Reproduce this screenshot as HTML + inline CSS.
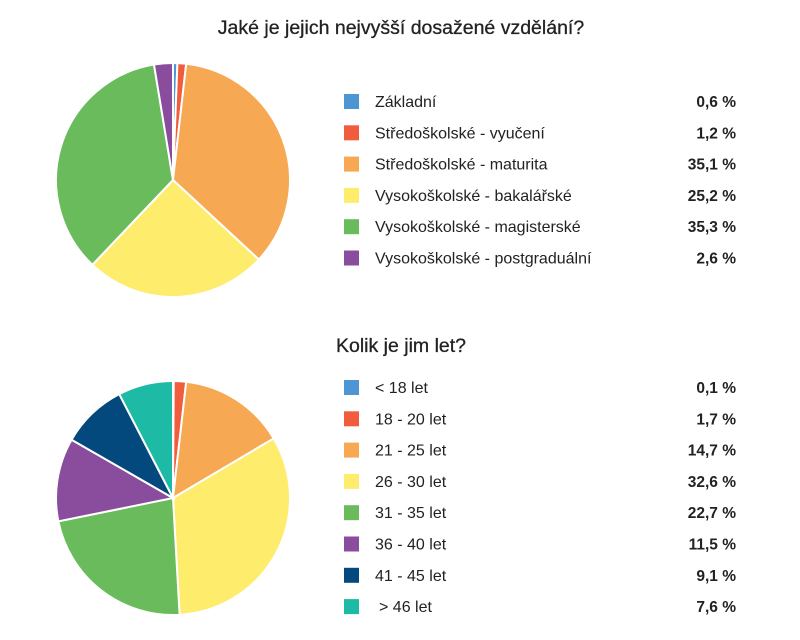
<!DOCTYPE html>
<html><head><meta charset="utf-8"><style>
body{margin:0;background:#fff;font-family:"Liberation Sans","DejaVu Sans",sans-serif;}
</style></head><body>
<svg width="800" height="635" xmlns="http://www.w3.org/2000/svg" font-family="Liberation Sans, DejaVu Sans, sans-serif">
<text x="401" y="34" text-anchor="middle" font-size="19.5" fill="#222" stroke="#222" stroke-width="0.3">Jaké je jejich nejvyšší dosažené vzdělání?</text>
<text x="401" y="352" text-anchor="middle" font-size="19.5" fill="#222" stroke="#222" stroke-width="0.3">Kolik je jim let?</text>
<g id="p1"></g><g id="p2"></g><g id="l1"></g><g id="l2"></g>
</svg>
<script>
const ns="http://www.w3.org/2000/svg";
function pie(id,cx,cy,r,data){const g=document.getElementById(id);let a=0;const tot=data.reduce((s,d)=>s+d[1],0);
data.forEach(d=>{const a0=a/tot*2*Math.PI;a+=d[1];const a1=a/tot*2*Math.PI;
const x0=cx+r*Math.sin(a0),y0=cy-r*Math.cos(a0),x1=cx+r*Math.sin(a1),y1=cy-r*Math.cos(a1);
const p=document.createElementNS(ns,"path");
p.setAttribute("d",`M${cx},${cy}L${x0},${y0}A${r},${r} 0 ${a1-a0>Math.PI?1:0} 1 ${x1},${y1}Z`);
p.setAttribute("fill",d[2]);p.setAttribute("stroke","#fff");p.setAttribute("stroke-width","2");g.appendChild(p);});}
function leg(id,y0,data){const g=document.getElementById(id);data.forEach((d,i)=>{const y=y0+i*31.3;
const s=document.createElementNS(ns,"rect");s.setAttribute("x",344);s.setAttribute("y",y-8);s.setAttribute("width",15);s.setAttribute("height",15);s.setAttribute("fill",d[2]);g.appendChild(s);
const t=document.createElementNS(ns,"text");t.setAttribute("x",d[3]||375);t.setAttribute("y",y+5);t.setAttribute("font-size","16");t.setAttribute("fill","#222");t.textContent=d[0];g.appendChild(t);
const v=document.createElementNS(ns,"text");v.setAttribute("x",736);v.setAttribute("y",y+5);v.setAttribute("font-size","15.5");v.setAttribute("font-weight","bold");v.setAttribute("fill","#222");v.setAttribute("text-anchor","end");v.textContent=(d[1]+"").replace(".",",")+" %";g.appendChild(v);});}
const d1=[["Základní",0.6,"#4e95d3"],["Středoškolské - vyučení",1.2,"#f15c3d"],["Středoškolské - maturita",35.1,"#f6a852"],["Vysokoškolské - bakalářské",25.2,"#feec6d"],["Vysokoškolské - magisterské",35.3,"#69bb5c"],["Vysokoškolské - postgraduální",2.6,"#8a4d9e"]];
const d2=[["< 18 let",0.1,"#4e95d3"],["18 - 20 let",1.7,"#f15c3d"],["21 - 25 let",14.7,"#f6a852"],["26 - 30 let",32.6,"#feec6d"],["31 - 35 let",22.7,"#69bb5c"],["36 - 40 let",11.5,"#8a4d9e"],["41 - 45 let",9.1,"#03497e"],["> 46 let",7.6,"#1dbaa6",379]];
pie("p1",173,180,117,d1);pie("p2",173,498,117,d2);
leg("l1",102,d1);leg("l2",388,d2);
</script>
</body></html>
